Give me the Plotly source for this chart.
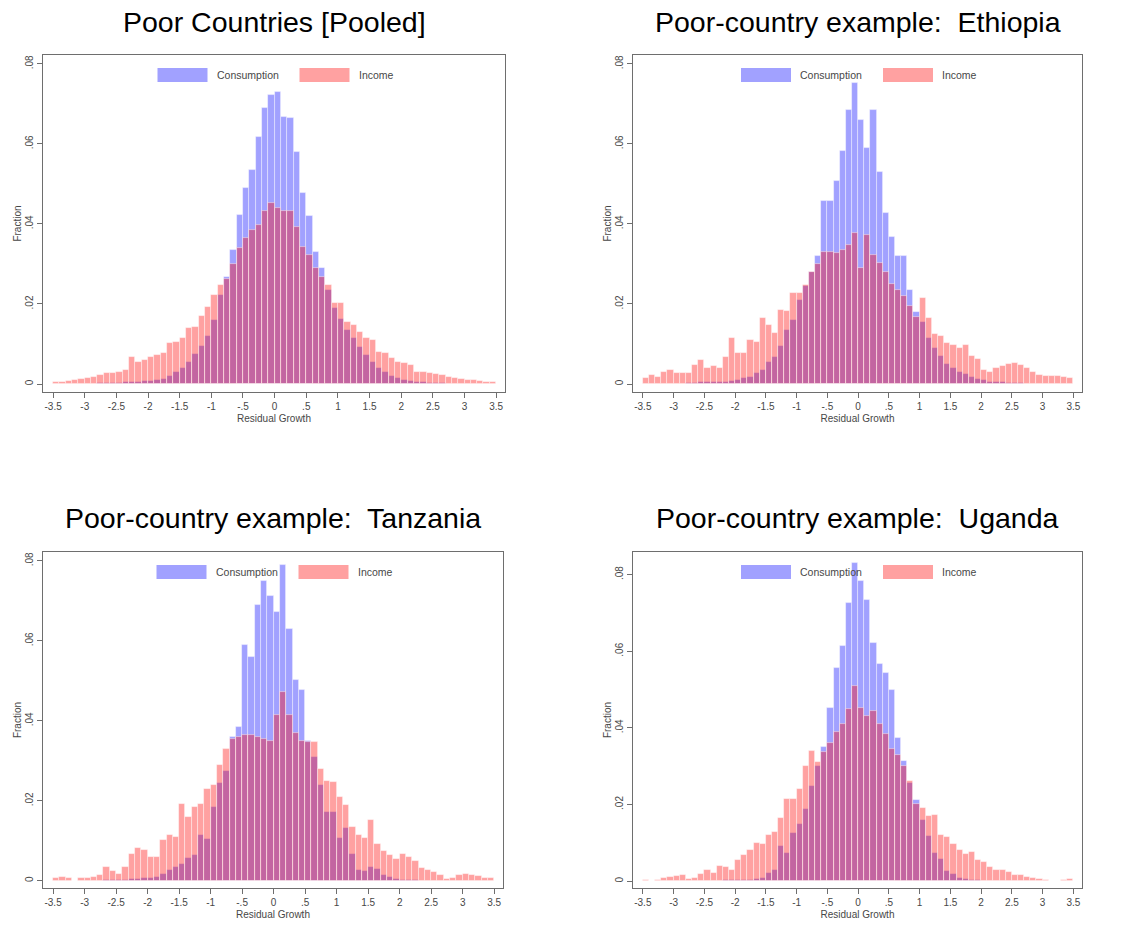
import plotly.graph_objects as go

# Histogram bins: 70 bins of width 0.1 covering [-3.5, 3.5]
BIN_FIRST_CENTER = -3.45
BIN_WIDTH = 0.1

# Fractions per bin, left to right
pooled_consumption = [
    0, 0, 0, 0, 0.0001, 0.0001, 0.0001, 0.0002, 0.0002, 0.0003,
    0.0003, 0.0004, 0.0005, 0.0006, 0.0007, 0.0008, 0.0010, 0.0012, 0.0020, 0.0030,
    0.0040, 0.0055, 0.0075, 0.0095, 0.0120, 0.0160, 0.0223, 0.0268, 0.0335, 0.0422,
    0.0490, 0.0535, 0.0618, 0.0690, 0.0722, 0.0730, 0.0668, 0.0665, 0.0580, 0.0477,
    0.0420, 0.0330, 0.0289, 0.0235, 0.0190, 0.0163, 0.0135, 0.0114, 0.0092, 0.0073,
    0.0056, 0.0040, 0.0030, 0.0020, 0.0015, 0.0010, 0.0008, 0.0006, 0.0004, 0.0003,
    0.0002, 0.0002, 0.0001, 0.0001, 0.0001, 0, 0, 0, 0, 0,
]
pooled_income = [
    0.0004, 0.0006, 0.0008, 0.0010, 0.0012, 0.0014, 0.0018, 0.0022, 0.0027, 0.0027,
    0.0031, 0.0035, 0.0068, 0.0056, 0.0060, 0.0068, 0.0073, 0.0077, 0.0102, 0.0106,
    0.0114, 0.0139, 0.0143, 0.0170, 0.0193, 0.0223, 0.0247, 0.0262, 0.0300, 0.0340,
    0.0365, 0.0385, 0.0398, 0.0431, 0.0452, 0.0439, 0.0431, 0.0431, 0.0393, 0.0343,
    0.0323, 0.0289, 0.0268, 0.0248, 0.0202, 0.0202, 0.0156, 0.0148, 0.0131, 0.0114,
    0.0110, 0.0081, 0.0077, 0.0064, 0.0056, 0.0052, 0.0048, 0.0031, 0.0031, 0.0027,
    0.0025, 0.0022, 0.0018, 0.0015, 0.0012, 0.0011, 0.0010, 0.0008, 0.0006, 0.0005,
]

ethiopia_consumption = [
    0, 0, 0, 0, 0, 0, 0.0001, 0.0002, 0.0003, 0.0004,
    0.0006, 0.0005, 0.0006, 0.0006, 0.0008, 0.0010, 0.0014, 0.0018, 0.0027, 0.0035,
    0.0056, 0.0068, 0.0095, 0.0135, 0.0160, 0.0210, 0.0245, 0.0280, 0.0320, 0.0456,
    0.0456, 0.0506, 0.0581, 0.0685, 0.0752, 0.0660, 0.0590, 0.0685, 0.0530, 0.0427,
    0.0367, 0.0320, 0.0320, 0.0235, 0.0180, 0.0155, 0.0114, 0.0090, 0.0070, 0.0050,
    0.0040, 0.0030, 0.0025, 0.0018, 0.0012, 0.0009, 0.0006, 0.0005, 0.0004, 0.0003,
    0.0002, 0.0002, 0.0001, 0.0001, 0, 0, 0, 0, 0, 0,
]
ethiopia_income = [
    0.0015, 0.0023, 0.0018, 0.0031, 0.0035, 0.0027, 0.0027, 0.0027, 0.0048, 0.0060,
    0.0040, 0.0044, 0.0040, 0.0068, 0.0114, 0.0077, 0.0077, 0.0110, 0.0106, 0.0164,
    0.0148, 0.0127, 0.0185, 0.0183, 0.0227, 0.0227, 0.0248, 0.0281, 0.0300, 0.0331,
    0.0331, 0.0327, 0.0336, 0.0348, 0.0377, 0.0290, 0.0373, 0.0323, 0.0303, 0.0279,
    0.0250, 0.0235, 0.0220, 0.0195, 0.0168, 0.0214, 0.0165, 0.0125, 0.0120, 0.0103,
    0.0098, 0.0090, 0.0098, 0.0070, 0.0062, 0.0035, 0.0030, 0.0040, 0.0046, 0.0050,
    0.0052, 0.0048, 0.0040, 0.0031, 0.0022, 0.0020, 0.0020, 0.0020, 0.0018, 0.0015,
]

tanzania_consumption = [
    0, 0, 0, 0, 0, 0, 0, 0, 0.0001, 0.0002,
    0.0003, 0.0003, 0.0004, 0.0005, 0.0006, 0.0008, 0.0010, 0.0018, 0.0027, 0.0035,
    0.0043, 0.0056, 0.0065, 0.0115, 0.0105, 0.0185, 0.0245, 0.0275, 0.0360, 0.0385,
    0.0590, 0.0560, 0.0690, 0.0750, 0.0712, 0.0673, 0.0789, 0.0630, 0.0502, 0.0477,
    0.0350, 0.0310, 0.0240, 0.0172, 0.0172, 0.0106, 0.0131, 0.0068, 0.0027, 0.0025,
    0.0035, 0.0030, 0.0015, 0.0010, 0.0005, 0.0003, 0.0002, 0.0001, 0, 0,
    0, 0, 0, 0, 0, 0, 0, 0, 0, 0,
]
tanzania_income = [
    0.0007, 0.0010, 0.0006, 0, 0.0006, 0.0008, 0.0010, 0.0015, 0.0035, 0.0025,
    0.0018, 0.0035, 0.0068, 0.0081, 0.0078, 0.0060, 0.0060, 0.0102, 0.0114, 0.0110,
    0.0193, 0.0160, 0.0185, 0.0193, 0.0230, 0.0240, 0.0290, 0.0330, 0.0355, 0.0360,
    0.0365, 0.0364, 0.0360, 0.0355, 0.0350, 0.0414, 0.0473, 0.0414, 0.0370, 0.0350,
    0.0347, 0.0347, 0.0280, 0.0250, 0.0248, 0.0210, 0.0190, 0.0135, 0.0114, 0.0108,
    0.0152, 0.0092, 0.0075, 0.0065, 0.0055, 0.0068, 0.0060, 0.0050, 0.0033, 0.0027,
    0.0022, 0.0014, 0.0005, 0.0008, 0.0015, 0.0018, 0.0015, 0.0011, 0.0008, 0.0006,
]

uganda_consumption = [
    0, 0, 0, 0, 0, 0, 0, 0, 0, 0,
    0.0001, 0.0001, 0.0001, 0.0002, 0.0002, 0.0003, 0.0003, 0.0004, 0.0005, 0.0009,
    0.0022, 0.0030, 0.0091, 0.0074, 0.0126, 0.0148, 0.0187, 0.0248, 0.0300, 0.0350,
    0.0453, 0.0557, 0.0614, 0.0727, 0.0831, 0.0783, 0.0735, 0.0622, 0.0566, 0.0544,
    0.0500, 0.0374, 0.0313, 0.0257, 0.0213, 0.0160, 0.0117, 0.0074, 0.0057, 0.0026,
    0.0018, 0.0009, 0.0005, 0.0003, 0.0002, 0.0001, 0.0001, 0.0001, 0, 0,
    0, 0, 0, 0, 0, 0, 0, 0, 0, 0,
]
uganda_income = [
    0.0003, 0, 0.0004, 0.0007, 0.0010, 0.0014, 0.0015, 0.0005, 0.0008, 0.0018,
    0.0030, 0.0022, 0.0040, 0.0036, 0.0028, 0.0055, 0.0068, 0.0080, 0.0100, 0.0098,
    0.0120, 0.0128, 0.0165, 0.0215, 0.0215, 0.0240, 0.0300, 0.0340, 0.0310, 0.0338,
    0.0360, 0.0390, 0.0410, 0.0448, 0.0510, 0.0453, 0.0432, 0.0445, 0.0410, 0.0385,
    0.0345, 0.0330, 0.0300, 0.0262, 0.0200, 0.0190, 0.0170, 0.0172, 0.0120, 0.0115,
    0.0098, 0.0082, 0.0072, 0.0075, 0.0055, 0.0050, 0.0038, 0.0030, 0.0028, 0.0024,
    0.0017, 0.0016, 0.0011, 0.0009, 0.0005, 0.0003, 0, 0, 0.0003, 0.0005,
]

panel_titles = [
    "Poor Countries [Pooled]",
    "Poor-country example:\u00a0 Ethiopia",
    "Poor-country example:\u00a0 Tanzania",
    "Poor-country example:\u00a0 Uganda",
]
series_names = ["Consumption", "Income"]

x_tick_vals = [-3.5, -3, -2.5, -2, -1.5, -1, -0.5, 0, 0.5, 1, 1.5, 2, 2.5, 3, 3.5]
x_tick_text = ["-3.5", "-3", "-2.5", "-2", "-1.5", "-1", "-.5", "0", ".5",
               "1", "1.5", "2", "2.5", "3", "3.5"]
y_tick_vals = [0, 0.02, 0.04, 0.06, 0.08]
y_tick_text = ["0", ".02", ".04", ".06", ".08"]

# ---- styling / layout ----
W, H = 1141, 932
CONS_COLOR = "rgba(0,0,255,0.37)"
INC_COLOR = "rgba(255,0,0,0.37)"
EDGE = "rgba(255,255,255,0.55)"
AXIS_GRAY = "#6e6e6e"
TEXT_GRAY = "#474747"
FONT = "Liberation Sans, Arial, sans-serif"

panels = [
    dict(frame=(43, 505, 55, 392), yrange=[-0.002, 0.0822],
         cons=pooled_consumption, inc=pooled_income, title_y=22),
    dict(frame=(633, 1082, 55, 392), yrange=[-0.002, 0.0822],
         cons=ethiopia_consumption, inc=ethiopia_income, title_y=22),
    dict(frame=(43, 503, 552, 888), yrange=[-0.0018, 0.0822],
         cons=tanzania_consumption, inc=tanzania_income, title_y=518),
    dict(frame=(633, 1082, 552, 888), yrange=[-0.0018, 0.0859],
         cons=uganda_consumption, inc=uganda_income, title_y=518),
]

fig = go.Figure()
layout = dict(
    width=W, height=H,
    margin=dict(l=0, r=0, t=0, b=0),
    paper_bgcolor="white", plot_bgcolor="white",
    barmode="overlay", bargap=0,
    showlegend=False,
    font=dict(family=FONT, color=TEXT_GRAY),
)
shapes = []
annotations = []

for i, (p, title) in enumerate(zip(panels, panel_titles)):
    n = i + 1
    sfx = "" if n == 1 else str(n)
    x0, x1, y0, y1 = p["frame"]
    fw, fh = x1 - x0, y1 - y0

    for vals, name, color in ((p["cons"], series_names[0], CONS_COLOR),
                              (p["inc"], series_names[1], INC_COLOR)):
        fig.add_trace(go.Bar(
            y=vals, x0=BIN_FIRST_CENTER, dx=BIN_WIDTH, width=BIN_WIDTH,
            name=name, marker=dict(color=color, line=dict(color=EDGE, width=0.8)),
            xaxis="x" + sfx, yaxis="y" + sfx,
        ))

    layout["xaxis" + sfx] = dict(
        domain=[x0 / W, x1 / W], anchor="y" + sfx, range=[-3.66, 3.64],
        tickmode="array", tickvals=x_tick_vals, ticktext=x_tick_text,
        ticks="outside", ticklen=5, tickwidth=1, tickcolor=AXIS_GRAY,
        showline=True, linecolor=AXIS_GRAY, linewidth=1.3, mirror=True,
        showgrid=False, zeroline=False,
        tickfont=dict(size=10, color=TEXT_GRAY, family=FONT),
        title=dict(text="Residual Growth", standoff=3,
                   font=dict(size=10, color=TEXT_GRAY, family=FONT)),
    )
    layout["yaxis" + sfx] = dict(
        domain=[1 - y1 / H, 1 - y0 / H], anchor="x" + sfx, range=p["yrange"],
        tickmode="array", tickvals=y_tick_vals, ticktext=y_tick_text, tickangle=-90,
        ticks="outside", ticklen=5, tickwidth=1, tickcolor=AXIS_GRAY,
        showline=True, linecolor=AXIS_GRAY, linewidth=1.3, mirror=True,
        showgrid=False, zeroline=False,
        tickfont=dict(size=10, color=TEXT_GRAY, family=FONT),
        title=dict(text="Fraction", standoff=0,
                   font=dict(size=10, color=TEXT_GRAY, family=FONT)),
    )

    # in-plot legend row, centred on the plot area
    sw, gap, txt_c, gap2, txt_i = 50, 7, 64, 21, 34
    total = sw + gap + txt_c + gap2 + sw + gap + txt_i
    start = fw / 2 - total / 2
    ly0, ly1 = 1 - 27 / fh, 1 - 13 / fh
    lmid = 1 - 20 / fh
    xref, yref = "x" + sfx + " domain", "y" + sfx + " domain"
    red_start = start + sw + gap + txt_c + gap2
    for sx, color, label in ((start, CONS_COLOR, series_names[0]),
                             (red_start, INC_COLOR, series_names[1])):
        shapes.append(dict(type="rect", xref=xref, yref=yref,
                           x0=sx / fw, x1=(sx + sw) / fw, y0=ly0, y1=ly1,
                           fillcolor=color, line=dict(width=0), layer="above"))
        annotations.append(dict(text=label, xref=xref, yref=yref,
                                x=(sx + sw + gap) / fw, y=lmid,
                                xanchor="left", yanchor="middle", showarrow=False,
                                font=dict(size=10.5, color=TEXT_GRAY, family=FONT)))

    annotations.append(dict(text=title, xref="paper", yref="paper",
                            x=(x0 + x1) / 2 / W, y=1 - p["title_y"] / H,
                            xanchor="center", yanchor="middle", showarrow=False,
                            font=dict(size=28.5, color="black", family=FONT)))

layout["shapes"] = shapes
layout["annotations"] = annotations
fig.update_layout(**layout)
fig.write_html("out.html")
